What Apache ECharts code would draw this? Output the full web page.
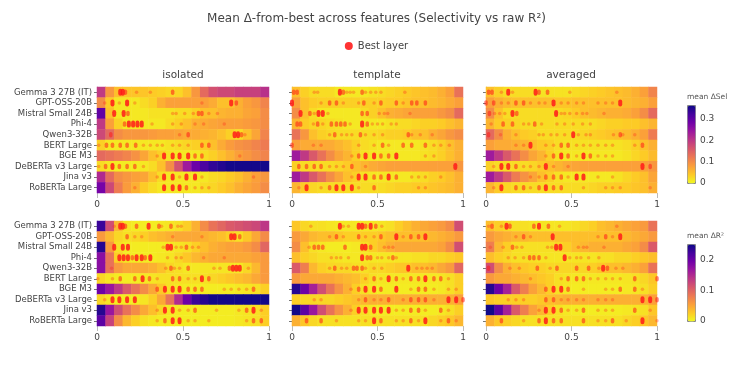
<!DOCTYPE html>
<html>
<head>
<meta charset="utf-8">
<script src="https://cdn.jsdelivr.net/npm/echarts@6/dist/echarts.min.js"></script>
<style>html,body{margin:0;padding:0;background:#fff}#chart{width:753px;height:373px}</style>
</head>
<body>
<div id="chart"></div>
<script>
var models = ['Gemma 3 27B (IT)','GPT-OSS-20B','Mistral Small 24B','Phi-4','Qwen3-32B','BERT Large','BGE M3','DeBERTa v3 Large','Jina v3','RoBERTa Large'];
var panelNames = ['isolated','template','averaged'];
// relative depth bins (centres)
var depthBins = [0.025,0.075,0.125,0.175,0.225,0.275,0.325,0.375,0.425,0.475,0.525,0.575,0.625,0.675,0.725,0.775,0.825,0.875,0.925,0.975];

// mean delta-Sel, one row per model
var selIsolated = [
  [0.20,0.09,0.05,0.045,0.045,0.045,0.04,0.035,0.03,0.03,0.05,0.09,0.14,0.17,0.18,0.18,0.19,0.19,0.19,0.21],
  [0.10,0.04,0.015,0.015,0.015,0.025,0.035,0.065,0.08,0.08,0.08,0.08,0.08,0.07,0.05,0.05,0.065,0.08,0.09,0.11],
  [0.30,0.05,0.015,0.015,0.015,0.015,0.02,0.02,0.02,0.025,0.025,0.035,0.05,0.05,0.06,0.065,0.065,0.075,0.08,0.10],
  [0.20,0.08,0.035,0.015,0.015,0.015,0.015,0.015,0.025,0.035,0.05,0.065,0.07,0.075,0.08,0.08,0.08,0.085,0.09,0.10],
  [0.18,0.14,0.10,0.09,0.09,0.09,0.085,0.08,0.08,0.075,0.07,0.07,0.065,0.06,0.05,0.035,0.025,0.05,0.075,0.11],
  [0.035,0.015,0.015,0.015,0.015,0.015,0.015,0.015,0.02,0.025,0.03,0.035,0.04,0.05,0.07,0.085,0.095,0.10,0.11,0.12],
  [0.14,0.13,0.12,0.11,0.095,0.075,0.05,0.035,0.02,0.015,0.015,0.015,0.025,0.035,0.05,0.065,0.08,0.09,0.10,0.11],
  [0.025,0.015,0.01,0.01,0.01,0.015,0.025,0.05,0.10,0.17,0.24,0.29,0.32,0.34,0.35,0.36,0.36,0.36,0.36,0.36],
  [0.22,0.14,0.10,0.09,0.08,0.075,0.05,0.025,0.015,0.015,0.015,0.015,0.015,0.025,0.03,0.04,0.05,0.065,0.08,0.09],
  [0.28,0.18,0.12,0.085,0.065,0.04,0.025,0.015,0.015,0.015,0.015,0.015,0.025,0.03,0.04,0.05,0.065,0.075,0.085,0.10]
];
var selTemplate = [
  [0.05,0.035,0.025,0.025,0.025,0.015,0.015,0.015,0.015,0.02,0.025,0.03,0.035,0.04,0.045,0.05,0.055,0.065,0.08,0.13],
  [0.08,0.05,0.04,0.035,0.035,0.035,0.035,0.035,0.035,0.035,0.035,0.04,0.04,0.045,0.05,0.05,0.055,0.06,0.07,0.08],
  [0.10,0.05,0.025,0.015,0.015,0.015,0.015,0.015,0.025,0.035,0.05,0.065,0.07,0.075,0.08,0.08,0.08,0.09,0.10,0.14],
  [0.06,0.04,0.03,0.03,0.025,0.02,0.015,0.015,0.015,0.015,0.015,0.02,0.025,0.025,0.03,0.035,0.035,0.04,0.05,0.06],
  [0.13,0.09,0.05,0.035,0.03,0.025,0.025,0.025,0.025,0.025,0.03,0.035,0.035,0.04,0.05,0.05,0.065,0.075,0.09,0.10],
  [0.08,0.07,0.07,0.07,0.07,0.06,0.05,0.035,0.025,0.02,0.015,0.015,0.015,0.015,0.015,0.02,0.025,0.035,0.05,0.065],
  [0.24,0.20,0.16,0.13,0.10,0.075,0.06,0.035,0.02,0.015,0.015,0.015,0.015,0.015,0.015,0.02,0.025,0.035,0.05,0.065],
  [0.035,0.025,0.025,0.025,0.025,0.03,0.04,0.05,0.06,0.07,0.075,0.08,0.08,0.08,0.08,0.08,0.08,0.08,0.08,0.09],
  [0.24,0.20,0.16,0.13,0.10,0.075,0.05,0.035,0.02,0.015,0.015,0.015,0.015,0.015,0.02,0.025,0.035,0.04,0.05,0.065],
  [0.06,0.04,0.03,0.025,0.025,0.025,0.025,0.025,0.025,0.025,0.025,0.03,0.035,0.035,0.04,0.04,0.045,0.05,0.055,0.065]
];
var selAveraged = [
  [0.05,0.035,0.025,0.025,0.025,0.025,0.02,0.02,0.02,0.02,0.025,0.03,0.035,0.04,0.045,0.05,0.055,0.065,0.08,0.11],
  [0.08,0.065,0.055,0.05,0.05,0.05,0.05,0.05,0.045,0.045,0.05,0.05,0.05,0.05,0.05,0.05,0.055,0.06,0.065,0.08],
  [0.10,0.05,0.025,0.025,0.025,0.025,0.025,0.025,0.025,0.03,0.04,0.05,0.055,0.06,0.065,0.065,0.07,0.08,0.10,0.14],
  [0.06,0.04,0.035,0.03,0.025,0.025,0.025,0.025,0.025,0.025,0.025,0.025,0.025,0.03,0.035,0.035,0.04,0.04,0.05,0.06],
  [0.14,0.10,0.065,0.05,0.04,0.035,0.025,0.025,0.025,0.025,0.025,0.03,0.035,0.04,0.045,0.05,0.055,0.065,0.08,0.12],
  [0.08,0.07,0.07,0.065,0.06,0.05,0.04,0.035,0.025,0.02,0.02,0.02,0.02,0.02,0.02,0.02,0.025,0.035,0.05,0.065],
  [0.24,0.20,0.16,0.13,0.10,0.075,0.06,0.035,0.02,0.015,0.015,0.015,0.015,0.015,0.015,0.015,0.02,0.03,0.04,0.055],
  [0.035,0.025,0.025,0.025,0.025,0.03,0.04,0.05,0.06,0.07,0.075,0.08,0.08,0.08,0.08,0.08,0.08,0.08,0.08,0.09],
  [0.24,0.20,0.16,0.12,0.095,0.075,0.05,0.035,0.02,0.015,0.015,0.015,0.015,0.015,0.015,0.02,0.03,0.04,0.05,0.075],
  [0.06,0.04,0.03,0.025,0.025,0.025,0.025,0.025,0.025,0.025,0.025,0.025,0.03,0.035,0.035,0.04,0.04,0.045,0.05,0.065]
];

// mean delta-R2, one row per model
var r2Isolated = [
  [0.23,0.12,0.04,0.012,0.008,0.008,0.008,0.01,0.012,0.015,0.025,0.045,0.07,0.09,0.10,0.11,0.115,0.12,0.125,0.14],
  [0.06,0.04,0.02,0.015,0.02,0.025,0.035,0.04,0.045,0.05,0.05,0.05,0.045,0.04,0.035,0.025,0.015,0.03,0.05,0.07],
  [0.24,0.06,0.015,0.008,0.008,0.008,0.008,0.008,0.01,0.012,0.015,0.025,0.035,0.045,0.05,0.055,0.055,0.06,0.07,0.10],
  [0.18,0.09,0.025,0.01,0.008,0.008,0.008,0.01,0.012,0.02,0.03,0.04,0.045,0.05,0.05,0.05,0.05,0.05,0.055,0.06],
  [0.18,0.09,0.06,0.05,0.05,0.05,0.045,0.035,0.02,0.015,0.01,0.01,0.012,0.012,0.012,0.012,0.01,0.02,0.04,0.06],
  [0.02,0.012,0.008,0.008,0.008,0.01,0.012,0.015,0.015,0.015,0.015,0.015,0.015,0.02,0.025,0.03,0.035,0.04,0.05,0.06],
  [0.20,0.17,0.14,0.11,0.09,0.07,0.05,0.03,0.015,0.01,0.008,0.008,0.008,0.008,0.008,0.008,0.01,0.012,0.015,0.025],
  [0.02,0.012,0.008,0.008,0.008,0.012,0.025,0.05,0.09,0.15,0.20,0.23,0.24,0.25,0.25,0.25,0.25,0.25,0.25,0.25],
  [0.24,0.17,0.12,0.09,0.07,0.05,0.035,0.02,0.01,0.008,0.008,0.008,0.008,0.008,0.008,0.008,0.01,0.012,0.015,0.025],
  [0.21,0.13,0.07,0.04,0.025,0.015,0.01,0.008,0.008,0.008,0.008,0.008,0.008,0.008,0.008,0.008,0.01,0.012,0.015,0.025]
];
var r2Template = [
  [0.03,0.02,0.015,0.015,0.012,0.01,0.01,0.01,0.01,0.01,0.012,0.015,0.025,0.035,0.045,0.05,0.055,0.06,0.07,0.12],
  [0.06,0.05,0.04,0.035,0.035,0.03,0.025,0.025,0.025,0.025,0.03,0.035,0.035,0.035,0.035,0.035,0.04,0.045,0.05,0.06],
  [0.07,0.035,0.015,0.01,0.008,0.008,0.008,0.01,0.015,0.025,0.035,0.045,0.05,0.05,0.05,0.05,0.05,0.055,0.07,0.12],
  [0.035,0.025,0.02,0.015,0.015,0.012,0.01,0.01,0.01,0.01,0.01,0.01,0.012,0.012,0.015,0.015,0.02,0.02,0.025,0.03],
  [0.11,0.08,0.04,0.025,0.02,0.02,0.02,0.015,0.015,0.02,0.02,0.025,0.03,0.03,0.035,0.035,0.04,0.05,0.06,0.10],
  [0.06,0.05,0.05,0.05,0.05,0.045,0.04,0.035,0.025,0.015,0.012,0.01,0.01,0.01,0.01,0.01,0.01,0.012,0.015,0.025],
  [0.24,0.20,0.16,0.12,0.09,0.065,0.045,0.025,0.015,0.01,0.008,0.008,0.008,0.008,0.008,0.008,0.008,0.01,0.015,0.025],
  [0.025,0.02,0.02,0.02,0.02,0.025,0.03,0.035,0.04,0.045,0.045,0.045,0.045,0.045,0.045,0.045,0.045,0.045,0.045,0.055],
  [0.25,0.21,0.17,0.12,0.09,0.065,0.045,0.025,0.015,0.01,0.008,0.008,0.008,0.008,0.008,0.008,0.008,0.01,0.015,0.025],
  [0.045,0.03,0.02,0.015,0.015,0.015,0.015,0.015,0.015,0.015,0.015,0.015,0.015,0.015,0.015,0.015,0.02,0.025,0.03,0.04]
];
var r2Averaged = [
  [0.035,0.025,0.02,0.015,0.015,0.012,0.012,0.012,0.012,0.012,0.015,0.02,0.025,0.035,0.04,0.045,0.05,0.055,0.06,0.09],
  [0.06,0.05,0.045,0.04,0.04,0.035,0.035,0.035,0.035,0.035,0.035,0.035,0.035,0.035,0.035,0.035,0.04,0.045,0.05,0.06],
  [0.08,0.04,0.025,0.015,0.015,0.015,0.015,0.015,0.02,0.025,0.035,0.04,0.045,0.045,0.045,0.045,0.05,0.055,0.07,0.11],
  [0.035,0.025,0.02,0.015,0.015,0.015,0.012,0.012,0.012,0.012,0.012,0.012,0.012,0.015,0.015,0.02,0.02,0.025,0.03,0.035],
  [0.12,0.07,0.045,0.035,0.03,0.025,0.025,0.02,0.02,0.02,0.02,0.02,0.025,0.03,0.035,0.035,0.04,0.045,0.055,0.09],
  [0.06,0.05,0.05,0.045,0.04,0.035,0.03,0.025,0.015,0.012,0.01,0.01,0.01,0.01,0.01,0.01,0.012,0.015,0.02,0.03],
  [0.24,0.20,0.16,0.11,0.08,0.055,0.04,0.025,0.015,0.01,0.008,0.008,0.008,0.008,0.008,0.008,0.01,0.012,0.015,0.025],
  [0.03,0.025,0.025,0.025,0.025,0.025,0.03,0.035,0.04,0.045,0.045,0.045,0.045,0.045,0.045,0.045,0.045,0.045,0.045,0.055],
  [0.25,0.21,0.16,0.11,0.08,0.055,0.04,0.025,0.015,0.01,0.008,0.008,0.008,0.008,0.008,0.008,0.01,0.012,0.015,0.03],
  [0.045,0.03,0.025,0.02,0.015,0.015,0.015,0.015,0.015,0.015,0.015,0.015,0.015,0.015,0.015,0.015,0.02,0.025,0.03,0.04]
];

// best layers per model: [relative depth, how many features pick it (1..3)]
var bestSelIsolated = [
  [[0.135,3],[0.15,3],[0.165,2],[0.23,1],[0.31,1],[0.44,2]],
  [[0.045,1],[0.09,3],[0.13,1],[0.175,3],[0.22,1],[0.61,1],[0.78,3],[0.81,2]],
  [[0.10,3],[0.155,3],[0.18,2],[0.44,1],[0.46,1],[0.51,1],[0.56,1],[0.59,2],[0.61,2],[0.65,1],[0.70,1]],
  [[0.16,2],[0.185,3],[0.21,3],[0.235,3],[0.26,3],[0.32,1],[0.44,1],[0.49,1],[0.57,1],[0.62,1],[0.74,1]],
  [[0.08,2],[0.48,1],[0.53,2],[0.80,3],[0.82,3],[0.84,2],[0.86,1]],
  [[0.01,1],[0.055,2],[0.09,2],[0.135,2],[0.175,2],[0.225,2],[0.27,1],[0.31,1],[0.35,1],[0.38,1],[0.44,1],[0.48,1],[0.53,1],[0.61,2],[0.65,2]],
  [[0.35,1],[0.39,3],[0.44,3],[0.48,3],[0.53,3],[0.57,2],[0.61,2],[0.83,1]],
  [[0.01,1],[0.05,2],[0.09,3],[0.13,2],[0.175,2],[0.22,2],[0.27,1]],
  [[0.35,1],[0.39,3],[0.44,3],[0.48,1],[0.52,3],[0.57,3],[0.61,1],[0.91,1]],
  [[0.22,1],[0.39,3],[0.44,3],[0.48,3],[0.52,2],[0.57,1],[0.61,1],[0.65,1]]
];
var bestSelTemplate = [
  [[0.01,2],[0.03,2],[0.13,1],[0.15,1],[0.28,3],[0.30,2],[0.32,1],[0.34,1],[0.36,1],[0.41,2],[0.43,1],[0.46,1],[0.49,1],[0.52,1],[0.66,1]],
  [[0.0,3],[0.17,1],[0.22,2],[0.26,2],[0.30,1],[0.39,1],[0.42,2],[0.48,1],[0.52,2],[0.61,2],[0.65,1],[0.70,2],[0.73,2],[0.78,2]],
  [[0.05,3],[0.105,2],[0.13,1],[0.155,3],[0.18,3],[0.21,1],[0.41,2],[0.44,2],[0.51,1],[0.54,1],[0.56,1],[0.69,1]],
  [[0.03,2],[0.05,2],[0.125,1],[0.15,2],[0.18,1],[0.23,2],[0.26,2],[0.285,2],[0.31,2],[0.34,1],[0.41,3],[0.44,2],[0.47,1],[0.50,1],[0.53,1],[0.58,1],[0.61,1]],
  [[0.22,1],[0.25,2],[0.29,1],[0.32,1],[0.35,1],[0.40,2],[0.43,1],[0.48,1],[0.53,1],[0.68,2],[0.70,1],[0.75,1],[0.82,1]],
  [[0.0,2],[0.125,1],[0.17,1],[0.39,1],[0.48,1],[0.53,2],[0.565,1],[0.65,2],[0.70,2],[0.78,2],[0.83,1],[0.87,1],[0.92,1]],
  [[0.35,1],[0.39,2],[0.43,3],[0.48,3],[0.52,2],[0.565,2],[0.61,3],[0.78,1],[0.83,1]],
  [[0.04,2],[0.085,2],[0.13,2],[0.17,2],[0.22,1],[0.26,1],[0.30,1],[0.35,2],[0.43,1],[0.955,3]],
  [[0.35,1],[0.39,3],[0.43,3],[0.48,2],[0.52,2],[0.565,3],[0.61,2],[0.70,1],[0.74,1],[0.78,1],[0.87,1]],
  [[0.04,1],[0.085,3],[0.17,1],[0.22,2],[0.26,3],[0.30,3],[0.35,3],[0.39,1],[0.48,2],[0.74,1],[0.78,1]]
];
var bestSelAveraged = [
  [[0.015,2],[0.035,2],[0.09,1],[0.13,3],[0.155,1],[0.29,3],[0.31,2],[0.36,2],[0.49,1],[0.765,1]],
  [[0.0,2],[0.045,2],[0.09,1],[0.13,1],[0.175,2],[0.22,2],[0.26,1],[0.31,1],[0.345,1],[0.395,3],[0.44,1],[0.48,1],[0.53,1],[0.57,1],[0.655,1],[0.70,1],[0.74,1],[0.785,3]],
  [[0.02,2],[0.05,1],[0.08,1],[0.11,1],[0.155,3],[0.18,2],[0.41,3],[0.44,1],[0.46,1],[0.49,1],[0.53,1],[0.565,1],[0.59,1],[0.69,1]],
  [[0.03,1],[0.10,2],[0.155,2],[0.22,1],[0.25,1],[0.285,2],[0.325,1],[0.415,1],[0.46,1],[0.51,1],[0.565,1],[0.61,1]],
  [[0.015,2],[0.085,1],[0.175,1],[0.31,1],[0.335,1],[0.38,1],[0.415,1],[0.46,1],[0.51,3],[0.54,1],[0.585,1],[0.61,1],[0.745,1],[0.785,2],[0.80,1],[0.87,1]],
  [[0.175,1],[0.22,1],[0.26,3],[0.35,1],[0.395,1],[0.44,2],[0.48,2],[0.53,1],[0.57,1],[0.61,1],[0.655,1],[0.70,1],[0.74,1],[0.87,1],[0.915,2]],
  [[0.35,1],[0.395,2],[0.44,3],[0.48,2],[0.53,1],[0.57,3],[0.61,2],[0.655,1],[0.70,1],[0.74,1]],
  [[0.045,1],[0.09,3],[0.13,3],[0.175,2],[0.22,1],[0.26,1],[0.31,1],[0.35,3],[0.395,1],[0.48,1],[0.915,3],[0.96,2]],
  [[0.26,1],[0.31,1],[0.35,2],[0.395,2],[0.44,2],[0.48,1],[0.53,3],[0.57,3],[0.655,1],[0.74,1]],
  [[0.045,1],[0.09,3],[0.175,2],[0.22,2],[0.26,1],[0.31,2],[0.35,3],[0.395,2],[0.44,2],[0.57,1],[0.70,1],[0.74,1],[0.785,1],[0.96,1]]
];
var bestR2Isolated = [
  [[0.10,1],[0.135,3],[0.15,3],[0.165,2],[0.23,2],[0.30,3],[0.36,2],[0.375,1],[0.43,2],[0.47,1],[0.49,1]],
  [[0.175,2],[0.22,1],[0.26,1],[0.44,1],[0.61,1],[0.78,3],[0.80,3],[0.83,2]],
  [[0.10,3],[0.15,3],[0.18,3],[0.385,1],[0.41,3],[0.43,3],[0.46,1],[0.49,1],[0.52,2],[0.555,1],[0.59,1]],
  [[0.13,3],[0.155,3],[0.18,3],[0.205,2],[0.23,3],[0.26,3],[0.28,2],[0.31,3],[0.41,1],[0.46,1],[0.49,1],[0.62,1],[0.74,1]],
  [[0.085,1],[0.40,1],[0.43,2],[0.45,1],[0.48,1],[0.53,2],[0.68,1],[0.715,1],[0.77,2],[0.79,3],[0.81,3],[0.83,3],[0.88,1]],
  [[0.005,1],[0.09,1],[0.135,2],[0.22,2],[0.265,3],[0.305,2],[0.35,1],[0.44,2],[0.48,2],[0.53,1],[0.57,1],[0.61,3],[0.65,2]],
  [[0.35,2],[0.395,3],[0.44,3],[0.48,3],[0.53,2],[0.57,2],[0.61,2],[0.74,1],[0.78,1],[0.825,1],[0.87,1],[0.91,2]],
  [[0.045,1],[0.09,3],[0.13,3],[0.175,3],[0.22,3]],
  [[0.35,1],[0.395,3],[0.44,3],[0.48,1],[0.53,1],[0.57,2],[0.695,1],[0.825,1],[0.87,2],[0.91,3],[0.955,1]],
  [[0.35,1],[0.395,2],[0.44,3],[0.48,3],[0.53,1],[0.57,1],[0.65,1],[0.87,1],[0.91,2],[0.955,2]]
];
var bestR2Template = [
  [[0.11,1],[0.28,3],[0.30,1],[0.33,1],[0.39,3],[0.41,3],[0.43,2],[0.46,3],[0.49,2],[0.525,1]],
  [[0.22,1],[0.26,2],[0.30,1],[0.39,2],[0.43,1],[0.48,1],[0.52,2],[0.61,3],[0.65,1],[0.695,2],[0.74,2],[0.78,3]],
  [[0.10,1],[0.13,2],[0.155,2],[0.18,2],[0.31,2],[0.41,3],[0.43,3],[0.46,2],[0.54,1],[0.565,1],[0.59,1]],
  [[0.23,1],[0.26,1],[0.285,1],[0.33,1],[0.41,3],[0.44,2],[0.46,2],[0.50,1],[0.525,1],[0.565,1],[0.59,2],[0.61,1]],
  [[0.22,1],[0.25,2],[0.29,1],[0.32,1],[0.36,2],[0.38,2],[0.41,2],[0.43,1],[0.48,1],[0.525,1],[0.68,3],[0.73,1],[0.76,1],[0.79,1],[0.82,1]],
  [[0.43,1],[0.48,2],[0.52,1],[0.565,3],[0.61,2],[0.65,1],[0.695,2],[0.74,2],[0.78,3],[0.83,2],[0.87,2],[0.915,1]],
  [[0.345,1],[0.39,2],[0.43,3],[0.48,3],[0.52,2],[0.61,3],[0.695,1],[0.74,2],[0.78,2],[0.83,1],[0.915,1],[0.96,1]],
  [[0.13,1],[0.17,1],[0.39,1],[0.43,2],[0.48,1],[0.52,1],[0.565,2],[0.65,1],[0.695,2],[0.74,2],[0.78,2],[0.83,1],[0.915,3],[0.96,3],[1.0,2]],
  [[0.345,1],[0.39,3],[0.43,3],[0.48,3],[0.52,3],[0.565,3],[0.61,1],[0.65,1],[0.695,2],[0.74,2],[0.78,1],[0.87,2],[0.915,1]],
  [[0.085,2],[0.17,2],[0.26,1],[0.39,1],[0.43,1],[0.48,3],[0.52,2],[0.61,1],[0.65,1],[0.695,2],[0.74,1],[0.78,3],[0.87,1],[0.915,2],[0.96,1]]
];
var bestR2Averaged = [
  [[0.015,1],[0.035,2],[0.09,1],[0.12,3],[0.14,2],[0.28,2],[0.31,3],[0.365,2],[0.43,1],[0.765,1]],
  [[0.175,1],[0.22,2],[0.26,1],[0.39,3],[0.655,1],[0.70,2],[0.74,1],[0.785,3]],
  [[0.025,1],[0.10,1],[0.155,2],[0.18,1],[0.21,1],[0.36,1],[0.385,1],[0.41,3],[0.435,3],[0.54,1],[0.57,1],[0.59,1],[0.69,1]],
  [[0.13,1],[0.17,1],[0.22,1],[0.255,2],[0.28,2],[0.31,2],[0.35,1],[0.46,3],[0.49,1],[0.53,1],[0.555,1],[0.60,1],[0.66,1]],
  [[0.015,2],[0.14,1],[0.195,1],[0.30,2],[0.375,1],[0.415,2],[0.53,2],[0.60,2],[0.66,1],[0.685,3],[0.71,2],[0.76,1],[0.80,1]],
  [[0.26,1],[0.44,1],[0.48,2],[0.53,2],[0.57,2],[0.61,1],[0.655,1],[0.70,1],[0.74,1],[0.785,1],[0.87,2],[1.0,2]],
  [[0.35,2],[0.395,3],[0.44,3],[0.48,2],[0.57,1],[0.70,1],[0.74,1],[0.785,2],[0.87,2],[0.915,1]],
  [[0.13,1],[0.175,1],[0.22,1],[0.35,2],[0.395,2],[0.44,1],[0.48,1],[0.53,1],[0.57,1],[0.655,1],[0.70,1],[0.74,1],[0.915,3],[0.96,3],[1.0,2]],
  [[0.31,1],[0.35,3],[0.395,3],[0.44,2],[0.48,1],[0.53,1],[0.57,2],[0.655,1],[0.70,1],[0.74,1],[0.87,2],[0.96,1]],
  [[0.09,2],[0.22,1],[0.31,2],[0.35,3],[0.395,2],[0.44,2],[0.57,2],[0.655,1],[0.70,1],[0.74,2],[0.82,1],[0.915,3],[1.0,1]]
];

var selMax = 0.365, r2Max = 0.252;
var plasmaR = ['#f0f921','#fdca26','#fb9f3a','#ed7953','#d8576b','#bd3786','#9c179e','#7201a8','#46039f','#0d0887'];
var font = 'DejaVu Sans';

var heat = [[selIsolated, selTemplate, selAveraged], [r2Isolated, r2Template, r2Averaged]];
var best = [[bestSelIsolated, bestSelTemplate, bestSelAveraged], [bestR2Isolated, bestR2Template, bestR2Averaged]];

var colLeft = [97, 292, 486], colWidth = [172, 171, 171];
var rowTop = [87, 221], rowHeight = [106, 105];
var capsule = 'path://M5,0 A5,5 0 0,1 10,5 L10,11 A5,5 0 0,1 0,11 L0,5 A5,5 0 0,1 5,0 Z';

var grids = [], xAxes = [], yAxes = [], series = [];
var heatIdx = [[], []];

for (var r = 0; r < 2; r++) {
  for (var c = 0; c < 3; c++) {
    var g = grids.length;
    grids.push({left: colLeft[c], top: rowTop[r], width: colWidth[c], height: rowHeight[r]});
    var xc = xAxes.length;
    xAxes.push({type: 'category', gridIndex: g, data: depthBins, show: false});
    var xv = xAxes.length;
    xAxes.push({type: 'value', gridIndex: g, min: 0, max: 1, interval: 0.5, position: 'bottom',
      axisLine: {show: false}, splitLine: {show: false},
      axisTick: {show: true, length: 5, lineStyle: {color: '#bbb'}},
      axisLabel: {fontSize: 9, color: '#444', margin: 7, fontFamily: font}});
    var yi = yAxes.length;
    yAxes.push({type: 'category', gridIndex: g, data: models, inverse: true,
      axisLine: {show: true, lineStyle: {color: '#ccc'}},
      axisTick: {show: true, length: 3, interval: 0, alignWithLabel: true, lineStyle: {color: '#777'}},
      axisLabel: {show: c === 0, interval: 0, fontSize: 8.5, color: '#444', margin: 5, fontFamily: font}});

    var hd = [];
    heat[r][c].forEach(function (row, m) {
      row.forEach(function (v, i) { hd.push([i, m, v]); });
    });
    heatIdx[r].push(series.length);
    series.push({type: 'heatmap', xAxisIndex: xc, yAxisIndex: yi, data: hd, emphasis: {disabled: true}});

    var sd = [];
    best[r][c].forEach(function (row, m) {
      row.forEach(function (p) {
        var w = p[1];
        sd.push({
          value: [p[0], m],
          symbol: w === 1 ? 'circle' : capsule,
          symbolSize: w === 1 ? 3.5 : (w === 2 ? [3.5, 5.5] : [4, 7]),
          itemStyle: {opacity: w === 1 ? 0.3 : (w === 2 ? 0.55 : 0.85)}
        });
      });
    });
    series.push({type: 'scatter', name: 'Best layer', xAxisIndex: xv, yAxisIndex: yi, data: sd,
      itemStyle: {color: '#ff1a1a'}, z: 5, emphasis: {disabled: true}});
  }
}

// colour bar tick labels
var cbTop = [105, 244], cbHeight = [78, 77], cbMax = [selMax, r2Max];
for (var k = 0; k < 2; k++) {
  var gi = grids.length;
  grids.push({left: 687, top: cbTop[k], width: 8, height: cbHeight[k]});
  xAxes.push({type: 'value', gridIndex: gi, show: false, min: 0, max: 1});
  yAxes.push({type: 'value', gridIndex: gi, min: 0, max: cbMax[k], interval: 0.1, position: 'right',
    axisLine: {show: false}, axisTick: {show: false}, splitLine: {show: false},
    axisLabel: {fontSize: 9, color: '#444', margin: 5, fontFamily: font, showMaxLabel: false}});
}

var chart = echarts.init(document.getElementById('chart'));
chart.setOption({
  animation: false,
  backgroundColor: '#fff',
  textStyle: {fontFamily: font},
  title: [
    {text: 'Mean Δ-from-best across features (Selectivity vs raw R²)', left: 'center', top: 13, padding: 0,
      textStyle: {fontSize: 12, fontWeight: 'normal', color: '#444', fontFamily: font}},
    {text: panelNames[0], left: 183, top: 70, textAlign: 'center', padding: 0, textStyle: {fontSize: 10.5, fontWeight: 'normal', color: '#444', fontFamily: font}},
    {text: panelNames[1], left: 377, top: 70, textAlign: 'center', padding: 0, textStyle: {fontSize: 10.5, fontWeight: 'normal', color: '#444', fontFamily: font}},
    {text: panelNames[2], left: 571, top: 70, textAlign: 'center', padding: 0, textStyle: {fontSize: 10.5, fontWeight: 'normal', color: '#444', fontFamily: font}},
    {text: 'mean ΔSel', left: 687, top: 93, padding: 0, textStyle: {fontSize: 7.5, fontWeight: 'normal', color: '#555', fontFamily: font}},
    {text: 'mean ΔR²', left: 687, top: 232, padding: 0, textStyle: {fontSize: 7.5, fontWeight: 'normal', color: '#555', fontFamily: font}}
  ],
  legend: {data: ['Best layer'], top: 41, left: 'center', icon: 'circle', itemWidth: 8, itemHeight: 8, padding: 0,
    itemStyle: {opacity: 1, color: '#ff3333'},
    textStyle: {fontSize: 10, color: '#444', fontFamily: font}},
  grid: grids,
  xAxis: xAxes,
  yAxis: yAxes,
  visualMap: [
    {type: 'continuous', seriesIndex: heatIdx[0], min: 0, max: selMax, inRange: {color: plasmaR},
      left: 687, top: 105, itemWidth: 8, itemHeight: 78, calculable: false, hoverLink: false,
      padding: 0, borderColor: '#888', borderWidth: 1, text: null},
    {type: 'continuous', seriesIndex: heatIdx[1], min: 0, max: r2Max, inRange: {color: plasmaR},
      left: 687, top: 244, itemWidth: 8, itemHeight: 77, calculable: false, hoverLink: false,
      padding: 0, borderColor: '#888', borderWidth: 1, text: null}
  ],
  series: series
});
window.addEventListener('resize', function () { chart.resize(); });
</script>
</body>
</html>
